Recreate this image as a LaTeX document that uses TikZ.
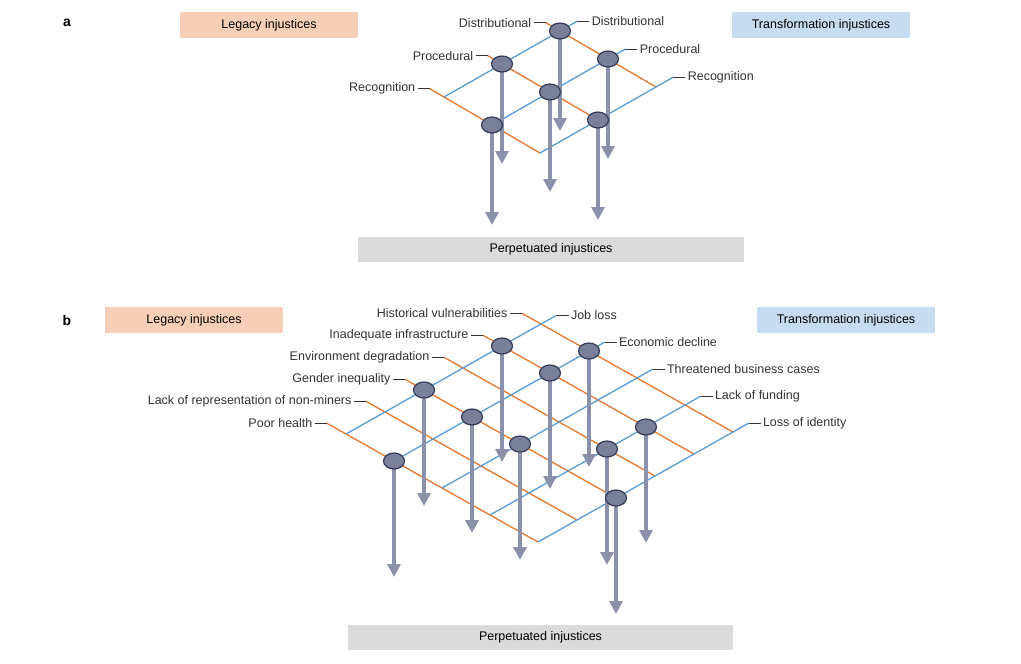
\documentclass[tikz,border=0pt]{standalone}
\usepackage{fontspec}
\setmainfont{Liberation Sans}
\usetikzlibrary{arrows.meta, shapes.geometric}
\definecolor{legacyc}{HTML}{E8772E}
\definecolor{transfc}{HTML}{5B9BD5}
\definecolor{knotc}{HTML}{7A8099}
\definecolor{knotlinec}{HTML}{343A58}
\definecolor{dropc}{HTML}{8B91AB}
\tikzstyle{oline} = [legacyc, line width=1.3pt]
\tikzstyle{bline} = [transfc, line width=1.3pt]
\tikzstyle{tick} = [black!80, line width=0.8pt]
\tikzstyle{knot} = [ellipse, minimum width=21pt, minimum height=16pt, fill=knotc, draw=knotlinec, line width=1.2pt, inner sep=0pt]
\tikzstyle{drop} = [dropc, line width=4.5pt, -{Triangle[length=13pt, width=13pt]}]
\tikzstyle{tag} = [font=\fontsize{12.5}{14}\selectfont, inner sep=2pt]
\tikzstyle{box} = [font=\fontsize{12.5}{14}\selectfont, minimum height=26pt, inner sep=0pt]

\begin{document}
\begin{tikzpicture}[x=1pt, y=-1pt]
	\useasboundingbox (0,0) rectangle (1021,664);

	% panel a
	\node (alabel) [font=\bfseries\fontsize{14}{16}\selectfont] at (67,23) {a};
	\node (alegacy) [box, fill=legacyc!35, minimum width=178pt] at (269,25) {Legacy injustices};
	\node (atransf) [box, fill=transfc!35, minimum width=178pt] at (821,25) {Transformation injustices};
	\node (aperp) [box, fill=black!14, minimum width=386pt, minimum height=25pt] at (551,249) {Perpetuated injustices};

	\coordinate (ao0s) at (545.6,22.6); \coordinate (ao0e) at (656,87);
	\coordinate (ao1s) at (487.6,55.6); \coordinate (ao1e) at (598,120);
	\coordinate (ao2s) at (429.6,88.6); \coordinate (ao2e) at (540,153);
	\coordinate (ab0s) at (444,97);     \coordinate (ab0e) at (577.4,21.1);
	\coordinate (ab1s) at (492,125);    \coordinate (ab1e) at (625.4,49.1);
	\coordinate (ab2s) at (540,153);    \coordinate (ab2e) at (673.4,77.1);

	\draw [oline] (ao0s) -- (ao0e);
	\draw [oline] (ao1s) -- (ao1e);
	\draw [oline] (ao2s) -- (ao2e);
	\draw [bline] (ab0s) -- (ab0e);
	\draw [bline] (ab1s) -- (ab1e);
	\draw [bline] (ab2s) -- (ab2e);

	\draw [tick] (ao0s) -- ++(-12,0) node (tao0) [tag, anchor=east] {Distributional};
	\draw [tick] (ao1s) -- ++(-12,0) node (tao1) [tag, anchor=east] {Procedural};
	\draw [tick] (ao2s) -- ++(-12,0) node (tao2) [tag, anchor=east] {Recognition};
	\draw [tick] (ab0e) -- ++(12,0) node (tab0) [tag, anchor=west] {Distributional};
	\draw [tick] (ab1e) -- ++(12,0) node (tab1) [tag, anchor=west] {Procedural};
	\draw [tick] (ab2e) -- ++(12,0) node (tab2) [tag, anchor=west] {Recognition};

	\foreach \n/\x/\y in {a00/560/31, a10/502/64, a01/608/59, a11/550/92, a21/492/125, a12/598/120} {
		\coordinate (\n) at (\x,\y);
		\coordinate (\n end) at (\x,\y+100);
		\draw [drop] (\n) -- (\n end);
		\node (\n k) [knot] at (\n) {};
	}

	% panel b
	\node (blabel) [font=\bfseries\fontsize{14}{16}\selectfont] at (67,320) {b};
	\node (blegacy) [box, fill=legacyc!35, minimum width=178pt] at (194,320) {Legacy injustices};
	\node (btransf) [box, fill=transfc!35, minimum width=178pt] at (846,320) {Transformation injustices};
	\node (bperp) [box, fill=black!14, minimum width=385pt, minimum height=25pt] at (540.5,637) {Perpetuated injustices};

	\foreach \i/\name in {0/Historical vulnerabilities, 1/Inadequate infrastructure, 2/Environment degradation, 3/Gender inequality, 4/Lack of representation of non-miners, 5/Poor health} {
		\coordinate (bo\i s) at (521.8-39*\i,313.2+22*\i);
		\coordinate (bo\i e) at (733-39*\i,432+22*\i);
		\draw [oline] (bo\i s) -- (bo\i e);
		\draw [tick] (bo\i s) -- ++(-12,0) node (tbo\i) [tag, anchor=east] {\name};
	}
	\foreach \j/\name in {0/Job loss, 1/Economic decline, 2/Threatened business cases, 3/Lack of funding, 4/Loss of identity} {
		\coordinate (bb\j s) at (346+48*\j,434+27*\j);
		\coordinate (bb\j e) at (556.6+48*\j,315.2+27*\j);
		\draw [bline] (bb\j s) -- (bb\j e);
		\draw [tick] (bb\j e) -- ++(12,0) node (tbb\j) [tag, anchor=west] {\name};
	}

	\foreach \n/\x/\y in {b10/502/346, b01/589/351, b11/550/373, b30/424/390, b31/472/417, b32/520/444, b51/394/461, b13/646/427, b23/607/449, b34/616/498} {
		\coordinate (\n) at (\x,\y);
		\coordinate (\n end) at (\x,\y+116);
		\draw [drop] (\n) -- (\n end);
		\node (\n k) [knot] at (\n) {};
	}
\end{tikzpicture}
\end{document}
